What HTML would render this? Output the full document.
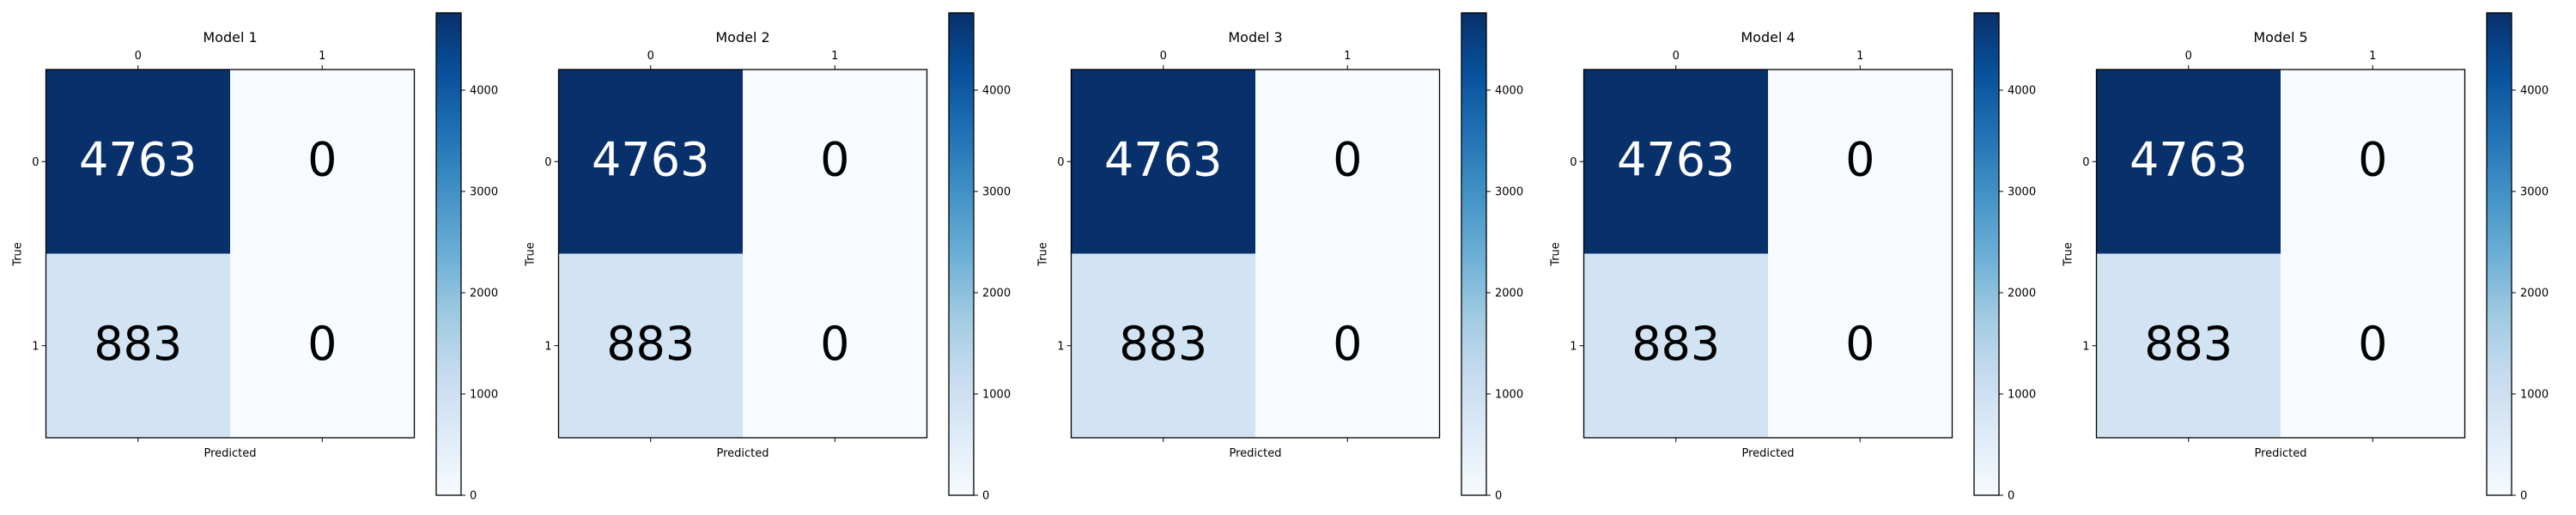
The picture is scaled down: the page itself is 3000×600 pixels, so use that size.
<!DOCTYPE html>
<html><head><meta charset="utf-8"><style>
html,body{margin:0;padding:0;background:#fff;}
svg{display:block;font-family:"DejaVu Sans","Liberation Sans",sans-serif;}
</style></head><body>
<svg id="chart" width="3000" height="600" viewBox="0 0 3000 600" xmlns="http://www.w3.org/2000/svg">
<defs>
<linearGradient id="blues" x1="0" y1="1" x2="0" y2="0">
<stop offset="0" stop-color="#f7fbff"/><stop offset="0.125" stop-color="#deebf7"/><stop offset="0.25" stop-color="#c6dbef"/><stop offset="0.375" stop-color="#9ecae1"/><stop offset="0.5" stop-color="#6baed6"/><stop offset="0.625" stop-color="#4292c6"/><stop offset="0.75" stop-color="#2171b5"/><stop offset="0.875" stop-color="#08519c"/><stop offset="1" stop-color="#08306b"/>
</linearGradient>
</defs>
</svg>
<script>
const modelNames = ["Model 1","Model 2","Model 3","Model 4","Model 5"];
const classLabels = ["0","1"];
const row0Values = [4763, 0];
const row1Values = [883, 0];
const colorbarTicks = [0,1000,2000,3000,4000];

const NS="http://www.w3.org/2000/svg";
const svg=document.getElementById('chart');
const stops=[[0,[247,251,255]],[0.125,[222,235,247]],[0.25,[198,219,239]],[0.375,[158,202,225]],[0.5,[107,174,214]],[0.625,[66,146,198]],[0.75,[33,113,181]],[0.875,[8,81,156]],[1,[8,48,107]]];
function blues(t){t=Math.max(0,Math.min(1,t));for(let i=1;i<stops.length;i++){if(t<=stops[i][0]){const a=stops[i-1],b=stops[i];const f=(t-a[0])/(b[0]-a[0]);return 'rgb('+a[1].map((v,k)=>Math.round(v+(b[1][k]-v)*f)).join(',')+')';}}return 'rgb(8,48,107)';}
function mk(tag,attrs,parent){const e=document.createElementNS(NS,tag);for(const k in attrs)e.setAttribute(k,attrs[k]);(parent||svg).appendChild(e);return e;}
const matrix=[row0Values,row1Values];
const allVals=matrix.flat();
const vmin=Math.min(...allVals), vmax=Math.max(...allVals);
const PL=53.5, PT=81, PS=429, CBL=508, CBW=29, CBT=15, CBB=577, STEP=597;
modelNames.forEach((name,m)=>{
  const ox=m*STEP;
  const g=mk('g',{});
  
  
  const n=classLabels.length, cs=PS/n;
  const xs=j=>ox+PL+j*cs, ys=i=>PT+i*cs;
  matrix.forEach((row,i)=>row.forEach((v,j)=>{
    const r=mk('rect',{x:xs(j),y:ys(i),width:cs+0.5,height:cs+0.5,fill:blues((v-vmin)/(vmax-vmin))},g);
    
    
    const t=mk('text',{x:xs(j)+cs/2,y:ys(i)+cs/2+16,'text-anchor':'middle','font-size':54,fill:(v>vmax/2)?'#fff':'#000'},g);
    
    
    t.textContent=v;
  }));
  const fr=mk('rect',{x:ox+PL,y:PT,width:PS,height:PS,fill:'none',stroke:'#000','stroke-width':1.3},g);
  
  
  classLabels.forEach((lab,j)=>{
    const cx=xs(j)+cs/2, cy=ys(j)+cs/2;
    mk('line',{x1:cx,y1:PT,x2:cx,y2:PT-5,stroke:'#000'},g);
    mk('line',{x1:cx,y1:PT+PS,x2:cx,y2:PT+PS+5,stroke:'#000'},g);
    mk('line',{x1:ox+PL,y1:cy,x2:ox+PL-5,y2:cy,stroke:'#000'},g);
    const tx=mk('text',{x:cx,y:PT-12,'text-anchor':'middle','font-size':13},g);
    
    
    tx.textContent=lab;
    const ty=mk('text',{x:ox+PL-8,y:cy+4.5,'text-anchor':'end','font-size':13},g);
    
    
    ty.textContent=lab;
  });
  const title=mk('text',{x:ox+PL+PS/2,y:49,'text-anchor':'middle','font-size':16},g);
  
  
  title.textContent=name;
  const xl=mk('text',{x:ox+PL+PS/2,y:532,'text-anchor':'middle','font-size':13},g);
  
  
  xl.textContent='Predicted';
  const yl=mk('text',{x:0,y:0,'text-anchor':'middle','font-size':13,transform:'translate('+(ox+24.5)+',296) rotate(-90)'},g);
  
  
  yl.textContent='True';
  const cb=mk('rect',{x:ox+CBL,y:CBT,width:CBW,height:CBB-CBT,fill:'url(#blues)',stroke:'#000','stroke-width':1.3},g);
  
  
  const cy=v=>CBB-(v-vmin)/(vmax-vmin)*(CBB-CBT);
  colorbarTicks.forEach(v=>{
    mk('line',{x1:ox+CBL+CBW,y1:cy(v),x2:ox+CBL+CBW+5,y2:cy(v),stroke:'#000'},g);
    const t=mk('text',{x:ox+CBL+CBW+10,y:cy(v)+4.5,'font-size':13},g);
    
    
    t.textContent=v;
  });
});
</script>
</body></html>
